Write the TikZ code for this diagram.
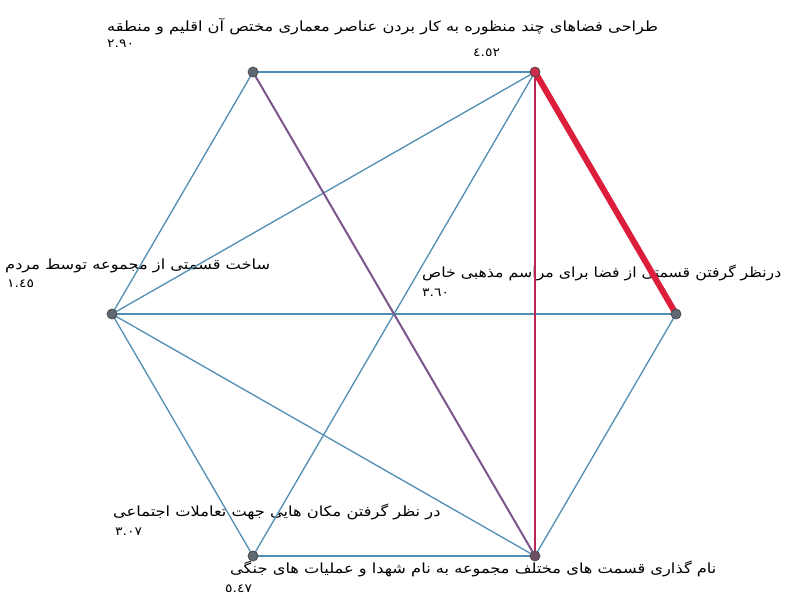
\documentclass[tikz,border=0pt]{standalone}
\usepackage{fontspec}
\newfontfamily\arabicfont[Script=Arabic, FakeStretch=1.16]{DejaVu Sans}
\TeXXeTstate=1
\definecolor{edgeblue}{RGB}{80,142,180}
\definecolor{edgepurple}{RGB}{125,85,140}
\definecolor{edgecrimson}{RGB}{185,35,85}
\definecolor{edgered}{RGB}{220,30,60}
\definecolor{nodegray}{RGB}{95,105,115}
\definecolor{nodered}{RGB}{205,45,75}
\definecolor{nodedark}{RGB}{110,80,100}
\tikzset{
  lbl/.style={font=\arabicfont\fontsize{14}{16}\selectfont, inner sep=0pt, anchor=west, text=black},
  val/.style={font=\arabicfont\fontsize{12}{14}\selectfont, inner sep=0pt, anchor=west, text=black},
  vtx/.style={circle, minimum size=10pt, inner sep=0pt},
  edge/.style={draw=edgeblue, line width=1.3pt},
}
\begin{document}
\begin{tikzpicture}[x=1pt,y=-1pt]
\useasboundingbox (0,0) rectangle (792,598);
\fill[white] (0,0) rectangle (792,598);
% labels (drawn beneath the connectors)
\node[lbl] (tAB) at (107,27) {\beginR طراحی فضاهای چند منظوره به کار بردن عناصر معماری مختص آن اقلیم و منطقه\endR};
\node[val] (vA) at (107,44) {٢.٩٠};
\node[val] (vB) at (473,53) {٤.٥٢};
\node[lbl] (tF) at (5,266) {\beginR ساخت قسمتی از مجموعه توسط مردم\endR};
\node[val] (vF) at (7,284) {١.٤٥};
\node[lbl] (tC) at (422,273) {\scalebox{0.97}[1]{\beginR درنظر گرفتن قسمتی از فضا برای مراسم مذهبی خاص\endR}};
\node[val] (vC) at (422,293) {٣.٦٠};
\node[lbl] (tE) at (113,512) {\beginR در نظر گرفتن مکان هایی جهت تعاملات اجتماعی\endR};
\node[val] (vE) at (115,532) {٣.٠٧};
\node[lbl] (tD) at (230,569) {\beginR نام گذاری قسمت های مختلف مجموعه به نام شهدا و عملیات های جنگی\endR};
\node[val] (vD) at (225,589) {٥.٤٧};
% vertices (positions)
\node[vtx] (A) at (253,72) {};
\node[vtx] (B) at (535,72) {};
\node[vtx] (C) at (676,314) {};
\node[vtx] (D) at (535,556) {};
\node[vtx] (E) at (253,556) {};
\node[vtx] (F) at (112,314) {};
% edges
\draw[edge] (A.center) -- (B.center);
\draw[edge] (A.center) -- (F.center);
\draw[edge] (B.center) -- (F.center);
\draw[edge] (B.center) -- (E.center);
\draw[edge] (F.center) -- (C.center);
\draw[edge] (F.center) -- (E.center);
\draw[edge] (F.center) -- (D.center);
\draw[edge] (C.center) -- (D.center);
\draw[edge] (E.center) -- (D.center);
\draw[draw=edgepurple, line width=2pt] (A.center) -- (D.center);
\draw[draw=edgecrimson, line width=2.5pt] (B.center) -- (D.center);
\draw[draw=edgered, line width=6pt] (B.center) -- (C.center);
% vertex discs on top
\foreach \n/\f in {A/nodegray, B/nodered, C/nodegray, D/nodedark, E/nodegray, F/nodegray}
  \fill[\f, draw=black!70, line width=0.8pt] (\n.center) circle (5pt);
\end{tikzpicture}
\end{document}
